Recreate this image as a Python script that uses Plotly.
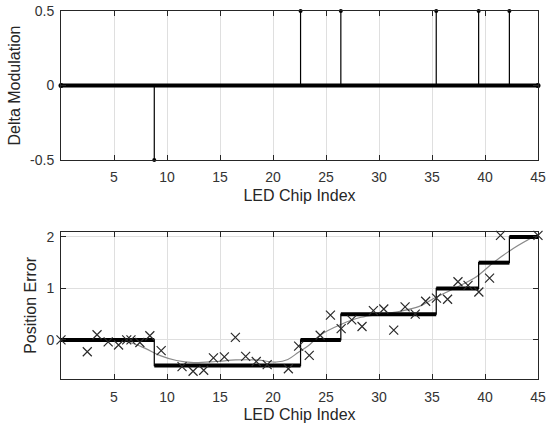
import plotly.graph_objects as go

# ---- data ----
step_x = [0, 8.8, 22.6, 26.4, 35.4, 39.4, 42.3, 45]
step_y = [0, -0.5, 0, 0.5, 1.0, 1.5, 2.0, 2.0]

delta_x = [8.8, 22.6, 26.4, 35.4, 39.4, 42.3]
delta_y = [-0.5, 0.5, 0.5, 0.5, 0.5, 0.5]

meas_x = [0.0, 2.48, 3.4, 4.45, 5.43, 6.2, 6.6, 7.44, 8.38, 9.45, 10.45, 11.42, 12.46,
          13.46, 14.38, 15.41, 16.45, 17.42, 18.42, 19.45, 20.43, 21.45, 22.42, 23.42,
          24.45, 25.42, 26.43, 27.43, 28.4, 29.47, 30.45, 31.39, 32.46, 33.42, 34.4,
          35.42, 36.47, 37.45, 38.4, 39.42, 40.43, 41.46, 45.0]
meas_y = [0.0, -0.23, 0.10, -0.04, -0.10, 0.0, 0.0, -0.05, 0.08, -0.21, -0.77, -0.52, -0.61,
          -0.59, -0.35, -0.33, 0.05, -0.32, -0.42, -0.48, -0.79, -0.56, -0.12, -0.30,
          0.09, 0.48, 0.22, 0.39, 0.26, 0.57, 0.60, 0.19, 0.64, 0.50, 0.75,
          0.81, 0.79, 1.13, 1.06, 0.93, 1.20, 2.03, 2.03]

fit_x = [0, 3, 5, 6.5, 8, 9.3, 10.9, 12.5, 14.6, 16.5, 18.4, 20.3, 21.4, 22.4, 23.3,
         24.5, 26.4, 28.3, 30.2, 32.1, 33.8, 35.2, 37.1, 39.0, 40.9, 42.7, 45]
fit_y = [0.0, 0.0, -0.01, -0.05, -0.17, -0.30, -0.40, -0.44, -0.42, -0.39, -0.39, -0.43,
         -0.38, -0.24, -0.12, 0.10, 0.30, 0.44, 0.50, 0.56, 0.65, 0.81, 1.0, 1.2, 1.52, 1.78, 2.05]

x_ticks = [5, 10, 15, 20, 25, 30, 35, 40, 45]
top_yticks = [-0.5, 0, 0.5]
top_yticklabels = ["-0.5", "0", "0.5"]
bot_yticks = [0, 1, 2]

# ---- derived geometry ----
thick_x, thick_y = [], []
for i in range(len(step_x) - 1):
    thick_x += [step_x[i], step_x[i + 1], None]
    thick_y += [step_y[i], step_y[i], None]

stem_x, stem_y = [], []
for dx, dy in zip(delta_x, delta_y):
    stem_x += [dx, dx, None]
    stem_y += [0, dy, None]

INK = "#262626"
GRID = "#dfdfdf"
FONT = "Liberation Sans, Arial, sans-serif"

fig = go.Figure()

# top: stem plot
fig.add_trace(go.Scatter(x=[step_x[0], step_x[-1]], y=[0, 0], mode="lines+markers",
                         line=dict(color="black", width=4), marker=dict(size=5, color="black"),
                         xaxis="x", yaxis="y", cliponaxis=False, showlegend=False))
fig.add_trace(go.Scatter(x=stem_x, y=stem_y, mode="lines", line=dict(color="black", width=1.2),
                         xaxis="x", yaxis="y", cliponaxis=False, showlegend=False))
fig.add_trace(go.Scatter(x=delta_x, y=delta_y, mode="markers", marker=dict(size=4, color="black"),
                         xaxis="x", yaxis="y", cliponaxis=False, showlegend=False))

# bottom
fig.add_trace(go.Scatter(x=fit_x, y=fit_y, mode="lines", line=dict(color="#8a8a8a", width=1.2, shape="spline"),
                         xaxis="x2", yaxis="y2", showlegend=False))
fig.add_trace(go.Scatter(x=step_x, y=step_y, mode="lines", line=dict(color="black", width=1.2, shape="hv"),
                         xaxis="x2", yaxis="y2", showlegend=False))
fig.add_trace(go.Scatter(x=thick_x, y=thick_y, mode="lines", line=dict(color="black", width=4),
                         xaxis="x2", yaxis="y2", showlegend=False))
fig.add_trace(go.Scatter(x=meas_x, y=meas_y, mode="markers",
                         marker=dict(symbol="x-thin", size=9, line=dict(color="#2a2a2a", width=1.2)),
                         xaxis="x2", yaxis="y2", cliponaxis=False, showlegend=False))

axis_common = dict(showline=True, linecolor=INK, linewidth=1, mirror="ticks", ticks="inside",
                   ticklen=5, tickcolor=INK, showgrid=True, gridcolor=GRID, gridwidth=1,
                   zeroline=False, automargin=False,
                   tickfont=dict(size=14, color="#333333", family=FONT))

xt = dict(text="LED Chip Index", font=dict(size=16, color=INK), standoff=5)

fig.update_layout(
    width=547, height=428, autosize=False,
    margin=dict(l=61, r=9, t=11, b=49),
    paper_bgcolor="white", plot_bgcolor="white",
    font=dict(family=FONT, color=INK),
    xaxis=dict(domain=[0, 1], range=[0, 45], tickvals=x_ticks, anchor="y", ticklabelstandoff=4,
               title=xt, **axis_common),
    yaxis=dict(domain=[0.595, 1], range=[-0.5, 0.5], tickvals=top_yticks, ticktext=top_yticklabels, anchor="x",
               ticklabelstandoff=3,
               title=dict(text="Delta Modulation", font=dict(size=16, color=INK), standoff=5), **axis_common),
    xaxis2=dict(domain=[0, 1], range=[0, 45], tickvals=x_ticks, anchor="y2", ticklabelstandoff=5,
                title=xt, **axis_common),
    yaxis2=dict(domain=[0, 0.4], range=[-0.76, 2.1], tickvals=bot_yticks, anchor="x2",
                ticklabelstandoff=3,
                title=dict(text="Position Error", font=dict(size=16, color=INK), standoff=5), **axis_common),
)

fig.write_html("out.html")
